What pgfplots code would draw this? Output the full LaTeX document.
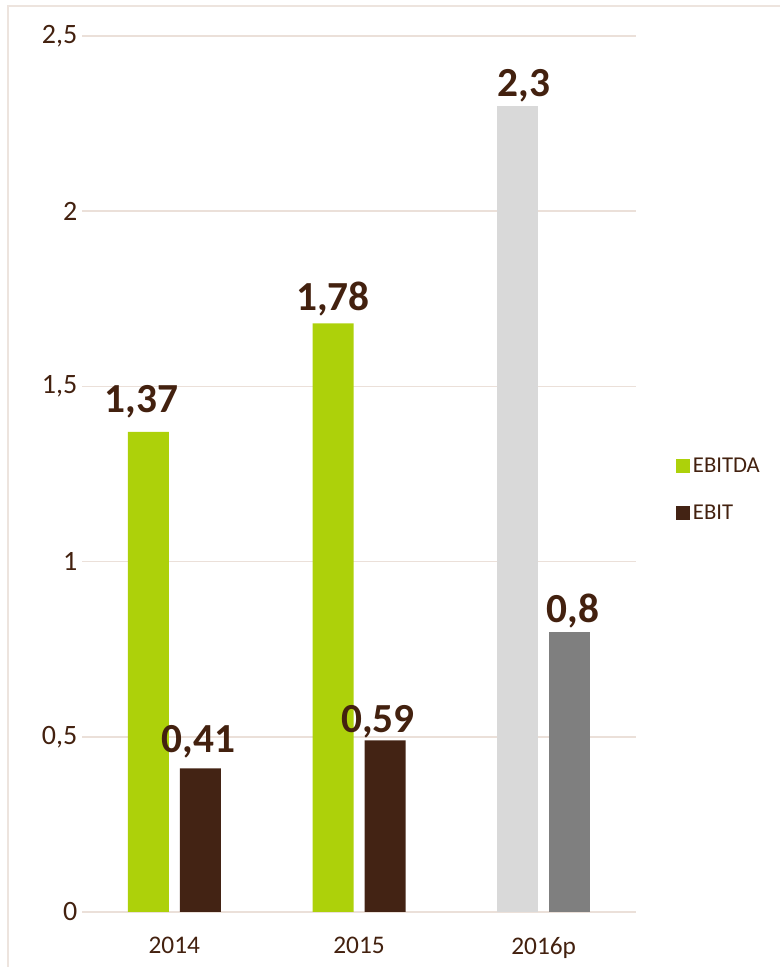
\documentclass[border=0pt]{standalone}
\usepackage{fontspec}
\setmainfont{Carlito}
\usepackage{pgfplots}
\pgfplotsset{compat=1.18}
\definecolor{ebitda}{HTML}{ADD10A}
\definecolor{ebit}{HTML}{432314}
\definecolor{lgray}{HTML}{D9D9D9}
\definecolor{dgray}{HTML}{7F7F7F}
\definecolor{txt}{HTML}{43210F}
\definecolor{gridc}{HTML}{EBE0D9}
\definecolor{framec}{HTML}{EDE4DE}
% value label nudged by (dx, dy) in pt
\newcommand\lab[3]{\raisebox{#2pt}{\kern#1pt\relax #3}}
\begin{document}
\begin{tikzpicture}
\useasboundingbox (0,0) rectangle (585pt,725.25pt);
\draw[framec, line width=1.5pt] (6pt,0) -- (6pt,720.75pt) -- (585pt,720.75pt);
\begin{axis}[
  at={(61.5pt,41.25pt)}, anchor=south west,
  scale only axis, width=415.5pt, height=657pt,
  xmin=-0.5, xmax=2.5, ymin=0, ymax=2.5,
  xtick={0,1,2}, xticklabels={2014,2015,2016p},
  ytick={0,0.5,...,2.5},
  /pgf/number format/use comma,
  /pgf/number format/assume math mode=true,
  yticklabel={\pgfmathprintnumber{\tick}},
  major tick length=0pt,
  axis line style={draw=none},
  ymajorgrids, grid style={gridc, line width=1.1pt},
  extra y ticks={0}, extra y tick labels={},
  extra y tick style={grid style={gridc, line width=1.6pt}},
  xticklabel style={font=\fontsize{19}{23}\selectfont, text=txt, yshift=-15.5pt},
  yticklabel style={font=\fontsize{21}{25}\selectfont, text=txt},
  bar width=30.75pt,
  nodes near coords,
  point meta=explicit symbolic,
  every node near coord/.append style={font=\bfseries\fontsize{31}{36}\selectfont, text=txt, anchor=base},
  legend style={at={(1.065,0.482)}, anchor=west, draw=none, fill=none,
    font=\fontsize{17}{20}\selectfont, text=txt, row sep=19pt,
    legend cell align=left},
  legend image code/.code={\fill[#1,draw=none] (-3.5pt,-5.25pt) rectangle (7pt,5.25pt);},
]
\addplot[ybar, bar shift=-19.5pt, fill=ebitda, draw=none,
  every node near coord/.append style={xshift=-19.5pt}]
  coordinates {(0,1.37) [\lab{-10.5}{14.25}{1,37}] (1,1.68) [\lab{0}{9.75}{1,78}]};
\addlegendentry{EBITDA}
\addplot[ybar, bar shift=19.5pt, fill=ebit, draw=none,
  every node near coord/.append style={xshift=19.5pt}]
  coordinates {(0,0.41) [\lab{-3}{12}{0,41}] (1,0.49) [\lab{-10.5}{6}{0,59}]};
\addlegendentry{EBIT}
\addplot[ybar, bar shift=-19.5pt, fill=lgray, draw=none, forget plot,
  every node near coord/.append style={xshift=-19.5pt}]
  coordinates {(2,2.3) [\lab{9}{7.5}{2,3}]};
\addplot[ybar, bar shift=19.5pt, fill=dgray, draw=none, forget plot,
  every node near coord/.append style={xshift=19.5pt}]
  coordinates {(2,0.8) [\lab{4.5}{6.75}{0,8}]};
\end{axis}
\end{tikzpicture}
\end{document}
